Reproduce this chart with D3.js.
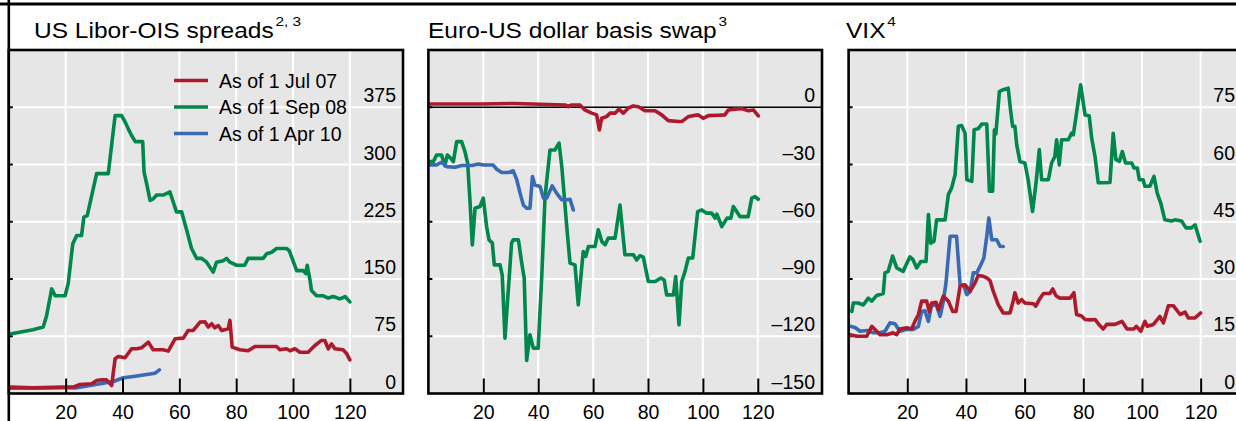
<!DOCTYPE html>
<html>
<head>
<meta charset="utf-8">
<script src="https://cdn.jsdelivr.net/npm/d3@7"></script>
<style>
  html, body { margin: 0; padding: 0; background: #fff; }
  svg { display: block; font-family: "Liberation Sans", Arial, Helvetica, sans-serif; }
</style>
</head>
<body>
<svg id="chart" width="1236" height="421"></svg>
<script>
// ---------- DATA ----------
const xTicks = [20, 40, 60, 80, 100, 120];
const liborTicks = [0, 75, 150, 225, 300, 375];
const basisTicks = [0, -30, -60, -90, -120, -150];
const vixTicks = [0, 15, 30, 45, 60, 75];
const legendLabels = ["As of 1 Jul 07", "As of 1 Sep 08", "As of 1 Apr 10"];

// US Libor-OIS spreads
const liborJul07 = [[0.4,8.3],[8.6,7.4],[19.2,8.3],[22.7,8.3],[25,11.8],[29.2,12.7],[30.9,17],[32.7,17.9],[34.4,17.9],[36.2,10.5],[37.4,45.5],[38.5,48.5],[40.9,46.8],[43.2,58.6],[45,58.6],[46.7,59.9],[49.1,67.3],[50.8,57.3],[54.3,57.3],[56.1,55.5],[58.5,71.7],[61.4,72.5],[63.1,82.6],[64.9,82.6],[67.3,93.5],[69,94],[70.2,87],[71.4,91.4],[72.5,86],[73.7,89],[74.9,82.6],[77.2,84.8],[77.8,95.7],[78.6,60.7],[81.3,57.3],[84.2,56],[86.6,61.6],[89.5,61.6],[94.2,61.6],[95.4,57.3],[97.7,58.6],[98.9,56],[100.7,58.6],[102.4,54],[105.3,54],[107.7,62.9],[110,69.5],[111.2,69.5],[112.4,58.6],[113.6,65],[114.7,58.6],[117.6,57.3],[118.9,52],[120,44]];
const liborSep08 = [[0.4,78],[8.5,83.5],[12.1,87],[13.3,102],[15.1,137],[16.3,128],[19.8,128],[20.9,144],[22.5,196],[23.9,207],[25.6,207],[26.4,231],[27.6,233],[30.9,288],[35,288],[37.4,364],[39.7,364],[40.9,356],[42,347],[43.2,338],[44.5,330],[47.1,330],[47.6,290],[48.5,275],[49.7,253],[50.8,255],[52,260],[54.3,260],[56.7,264],[59,238],[60.8,238],[62.6,214],[64.3,190],[66.1,177],[67.9,177],[69.6,172],[71.9,159],[73.1,172],[75.4,174],[76.6,177],[77.8,172],[80.2,168],[83,168],[84.2,177],[86,177],[89.5,177],[90.7,183],[92.5,185],[94.2,190],[97.7,190],[98.7,187],[101.3,161],[103.6,161],[104.5,157],[105,168],[106,148],[106.5,135],[108.3,128],[110.6,128],[112.4,125],[114.1,127],[116.5,124],[118.3,127],[120,120]];
const liborApr10 = [[0.4,7],[10,7.2],[20,7.5],[23.9,7.4],[32.1,12.7],[36.8,15.7],[40.3,20.6],[43.8,22.3],[48.5,24.9],[51.4,26.6],[53,31]];

// Euro-US dollar basis swap
const basisJul07 = [[0.6,1.7],[19.4,1.7],[31.5,2],[49.8,1.2],[51,0.3],[52.2,1.2],[55.2,1.2],[57,-1.4],[59.5,-3.1],[61.3,-4],[62.3,-11.9],[63.1,-5.8],[64.9,-4.9],[66.2,-3.1],[68,-3.1],[69.4,-1],[71,-3.1],[72.8,-0.5],[74.6,0.7],[76.5,0.3],[78.9,-1.8],[82.6,-1.8],[85,-4],[87.4,-7],[91.1,-7.5],[92.3,-7.5],[94.7,-4.9],[98.3,-4],[100.1,-5.8],[102,-4.4],[105.6,-4.2],[108,-4],[109.3,-1.4],[111.7,-1],[114.1,-0.7],[116.6,-1.8],[118.4,-1.4],[120.2,-4.5]];
const basisSep08 = [[0.6,-28.5],[1.8,-28.5],[3,-25],[4.8,-25],[6,-30.7],[6.9,-25],[8.1,-26.7],[9.1,-28.5],[10.3,-18],[12.1,-18],[13.3,-23.2],[14.3,-29.3],[15.2,-50.3],[16,-72.1],[17,-52.9],[18.8,-52],[20,-47.6],[21.2,-62.5],[22.1,-69.5],[23.3,-71.2],[24,-82.6],[26.1,-82.6],[26.9,-88],[27.9,-121],[30.3,-71.2],[30.9,-69.5],[32.8,-69.5],[34,-81.7],[34.9,-89.5],[35.8,-132.7],[37,-119.2],[38.2,-126.2],[40,-126.2],[41.3,-88.7],[42.5,-46.8],[44.3,-22.4],[46.1,-22.4],[47.6,-18.8],[48.6,-31.1],[50.4,-62.5],[51.6,-81.7],[53.4,-82.6],[54.6,-103.5],[55.8,-85],[56.4,-75.6],[57.3,-78.2],[58.3,-73],[60.7,-73],[61.9,-64.2],[63.2,-70.4],[64.4,-72.1],[65.5,-68.6],[68,-68.6],[69.8,-51.2],[71.6,-77.3],[74.7,-77.3],[75.9,-80],[77.1,-77.8],[78.3,-78.5],[80.1,-91.3],[82.6,-91.3],[84.7,-89.5],[85.9,-90.5],[86.8,-98.3],[89.3,-98.3],[90.1,-88.7],[91.3,-114],[92.3,-91.3],[93.5,-86],[94.7,-79],[96.3,-79],[98.1,-54.7],[99.6,-53.8],[101.4,-55.5],[103.2,-55.5],[104.5,-58.1],[105.1,-56],[106.9,-62.5],[108.8,-58.1],[110.2,-58.1],[111.1,-52],[113.5,-57.3],[116.5,-57.3],[117.8,-47.6],[119,-46.8],[120.2,-48.2]];
const basisApr10 = [[0.6,-30.2],[3,-30.2],[4.8,-28.8],[6.7,-31.1],[9.7,-31.4],[12.1,-30.5],[15.8,-30.5],[18.2,-29.7],[20,-30.3],[23.6,-30.3],[24.9,-32.5],[26.7,-34.2],[29.1,-34.2],[30.9,-33.3],[32.2,-38],[33.4,-45],[34.6,-51.2],[35.8,-52.9],[37,-52.9],[37.9,-36.3],[38.8,-40.7],[40.7,-41.5],[41.9,-47.6],[43.1,-47.6],[45.1,-41.2],[46.7,-45],[48.6,-48.5],[50.4,-48.5],[51.6,-48.2],[52.8,-53.8]];

// VIX
const vixJul07 = [[0.5,15.4],[2.8,15],[6.2,15],[7.9,17.6],[9.6,16.3],[10.7,15.4],[13,15.4],[15.2,15.9],[16.4,15.4],[17.5,16.9],[19.8,17.2],[21.5,16.9],[22.6,18.9],[23.8,20.7],[24.9,24.2],[26.6,24.2],[27.5,21.5],[28.3,23.7],[29.8,23.9],[30.6,22],[32.3,25.5],[34,24.2],[35.5,21.5],[36.6,21.5],[38,28.1],[39.7,28.5],[41.4,26.8],[43.1,29],[44.2,30.9],[45.9,30.7],[47.1,30.3],[48.2,29.6],[49.3,26.8],[51,23.3],[52.7,21.1],[55,21.1],[56.1,24.2],[56.7,26.4],[57.8,23.7],[59,24.6],[60.1,23.7],[63,23.5],[63.8,22.9],[65,24.6],[66.4,26.2],[68.6,26.2],[69.6,27.4],[70.7,25.6],[72,25],[75.5,25],[76.8,26.4],[77.7,20.7],[79.4,20.3],[80.6,19.4],[82.3,19.3],[84,19.4],[85.1,18.3],[86.8,16.9],[88,18.1],[90.8,18.1],[93.2,18.9],[94.9,16.9],[97.2,16.9],[98.1,17.6],[99.6,16.3],[101,18.9],[101.8,17.6],[103.9,18.1],[106.1,20.2],[107.3,18.5],[109,23],[110.7,23],[113,20.7],[114.7,21.3],[115.8,19.8],[118.1,19.8],[120,21.1]];
const vixSep08 = [[1.1,21.5],[1.6,23.7],[3.3,23.7],[5,23.2],[6.7,25],[7.9,24.2],[9.6,25.7],[11.8,26.2],[12.4,31.6],[13.5,32],[15,36],[16.4,32.9],[18.6,32],[20.9,35.8],[22,35],[23.2,32.9],[24.6,34.6],[26.4,34.6],[27.2,46.9],[28,39.4],[29.1,39.9],[30,45.5],[32.9,45.5],[34,52.1],[35.1,53.8],[36.3,57.3],[37.4,70],[38.5,70.2],[39.7,68.2],[40.3,56],[42,55.6],[42.8,69.1],[44.2,69.4],[45.4,70.6],[47.1,70.6],[48,53],[49.1,53],[49.7,69.1],[50.2,68],[51.4,79.1],[52.7,79.6],[54.4,80],[55.2,74.3],[55.9,70],[56.7,70],[57.3,65.2],[58.4,60.8],[60.1,60.4],[61.2,56],[62.7,47.7],[63.9,55.2],[65,63.9],[65.8,56],[68.1,56],[69.2,60.4],[70.3,62.1],[70.9,66.5],[71.8,59.9],[72.6,66.5],[74.9,66.5],[76,68.2],[76.6,67.8],[77.2,70.9],[79.1,80.9],[80.6,73],[82,72.8],[82.9,66.7],[84,62.1],[85.1,55.2],[86.3,55.2],[89.1,55.3],[90.2,68.2],[91.1,61.3],[92.3,60.8],[93.3,63.4],[94.4,60.4],[96.5,60.4],[97.3,59.1],[98.4,59.1],[99.1,56],[100.4,56],[101,54.3],[102.7,54.3],[104.1,56.9],[105.2,52.5],[106.4,49.9],[107.8,45.5],[110.1,45.2],[111.2,45.5],[113.5,45.2],[115,43.4],[116.9,43.4],[118.1,44.2],[119.8,39.9]];
const vixApr10 = [[0.5,17.6],[2.2,17.3],[3.9,16.3],[6.2,16.5],[8.4,15.9],[10.7,15.9],[12.4,16.3],[14.1,18.5],[15.8,18.3],[17.5,16.3],[19.8,16.8],[22,16.8],[23.8,17.6],[24.9,21.5],[26,21.7],[27.2,18.9],[28.3,23.3],[30,23],[31.2,20.2],[32.3,24.2],[33.2,29],[34.6,41.2],[36.8,41.2],[38,28.5],[39.1,28.5],[40.3,25.9],[41.4,26.7],[42.5,31.6],[43.7,31.6],[44.8,33.3],[46.1,35.5],[47.1,41.2],[47.8,46],[48.8,40.3],[50.5,40.3],[51.6,38.6],[52.7,38.5]];

// ---------- STYLE / LAYOUT ----------
const colors = { jul07: "#ad1a2c", sep08: "#00874b", apr10: "#3a6ab3" };
const plotTop = 50, plotBottom = 393.5;
const bg = "#e6e6e6";
const fontTick = 19.5;

const panels = [
  { title: "US Libor-OIS spreads", sup: "2, 3", tx: 34, left: 8.8, right: 403, xmax: 138.7, ydom: [0, 450], yticks: liborTicks,
    series: { jul07: liborJul07, sep08: liborSep08, apr10: liborApr10 }, legend: true, zero: false },
  { title: "Euro-US dollar basis swap", sup: "3", tx: 428, left: 428.4, right: 822, xmax: 143.4, ydom: [-150, 30], yticks: basisTicks,
    series: { jul07: basisJul07, sep08: basisSep08, apr10: basisApr10 }, legend: false, zero: true },
  { title: "VIX", sup: "4", tx: 846, left: 848.6, right: 1242, xmax: 134.1, ydom: [0, 90], yticks: vixTicks,
    series: { jul07: vixJul07, sep08: vixSep08, apr10: vixApr10 }, legend: false, zero: false }
];

const svg = d3.select("#chart");

// outer rule lines
svg.append("line").attr("x1", 0).attr("x2", 1236).attr("y1", 4).attr("y2", 4)
  .attr("stroke", "#000").attr("stroke-width", 3);
svg.append("line").attr("x1", 8.8).attr("x2", 8.8).attr("y1", 0).attr("y2", 421)
  .attr("stroke", "#000").attr("stroke-width", 2.6);

panels.forEach(p => {
  const x = d3.scaleLinear().domain([0, p.xmax]).range([p.left, p.right]);
  const y = d3.scaleLinear().domain(p.ydom).range([plotBottom, plotTop]);
  const g = svg.append("g");

  g.append("rect").attr("x", p.left).attr("y", plotTop)
    .attr("width", p.right - p.left).attr("height", plotBottom - plotTop).attr("fill", bg);

  // vertical grid
  g.selectAll(".vg").data(xTicks).join("line")
    .attr("x1", d => x(d)).attr("x2", d => x(d))
    .attr("y1", plotTop).attr("y2", plotBottom)
    .attr("stroke", "#fff").attr("stroke-width", 2);
  // horizontal grid
  const inner = p.yticks.filter(t => y(t) > plotTop + 1 && y(t) < plotBottom - 1);
  g.selectAll(".hg").data(inner).join("line")
    .attr("x1", p.left).attr("x2", p.right)
    .attr("y1", d => y(d)).attr("y2", d => y(d))
    .attr("stroke", d => (p.zero && d === 0) ? "#000" : "#fff")
    .attr("stroke-width", d => (p.zero && d === 0) ? 1.4 : 2);

  // left small ticks
  g.selectAll(".lt").data(inner).join("line")
    .attr("x1", p.left).attr("x2", p.left + 4)
    .attr("y1", d => y(d)).attr("y2", d => y(d))
    .attr("stroke", "#000").attr("stroke-width", 2);

  // series
  const line = d3.line().x(d => x(d[0])).y(d => y(d[1]));
  ["sep08", "apr10", "jul07"].forEach(k => {
    g.append("path").datum(p.series[k]).attr("d", line)
      .attr("fill", "none").attr("stroke", colors[k]).attr("stroke-width", 3.6)
      .attr("stroke-linejoin", "round").attr("stroke-linecap", "round");
  });

  // y labels
  g.selectAll(".yl").data(p.yticks).join("text")
    .attr("x", p.right - 7).attr("y", d => y(d) - 5)
    .attr("text-anchor", "end").attr("font-size", fontTick).attr("fill", "#000")
    .text(d => d < 0 ? "\u2013" + Math.abs(d) : String(d));

  // frame
  g.append("rect").attr("x", p.left).attr("y", plotTop)
    .attr("width", p.right - p.left).attr("height", plotBottom - plotTop)
    .attr("fill", "none").attr("stroke", "#000").attr("stroke-width", 2.6);

  // bottom axis
  const ax = g.append("g").attr("transform", `translate(0,${plotBottom})`)
    .call(d3.axisBottom(x).tickValues(xTicks).tickSize(-15).tickPadding(11.5).tickFormat(d3.format("d")));
  ax.select(".domain").remove();
  ax.attr("font-family", null).attr("font-size", null);
  ax.selectAll(".tick line").attr("stroke", "#000").attr("stroke-width", 2);
  ax.selectAll(".tick text").attr("fill", "#000").attr("font-size", fontTick);

  // title
  const t = svg.append("text").attr("transform", `translate(${p.tx},38) scale(1.14,1)`)
    .attr("font-size", 21.5).attr("fill", "#000");
  t.append("tspan").text(p.title);
  t.append("tspan").attr("font-size", 13.5).attr("dx", 1.5).attr("dy", -12.5).text(p.sup);

  // legend
  if (p.legend) {
    const keys = ["jul07", "sep08", "apr10"];
    const lg = g.append("g");
    keys.forEach((k, i) => {
      const ly = 80.5 + i * 26.5;
      lg.append("line").attr("x1", 174).attr("x2", 208).attr("y1", ly).attr("y2", ly)
        .attr("stroke", colors[k]).attr("stroke-width", 3.6);
      lg.append("text").attr("x", 219).attr("y", ly + 7).attr("font-size", fontTick)
        .attr("fill", "#000").text(legendLabels[i]);
    });
  }
});
</script>
</body>
</html>
